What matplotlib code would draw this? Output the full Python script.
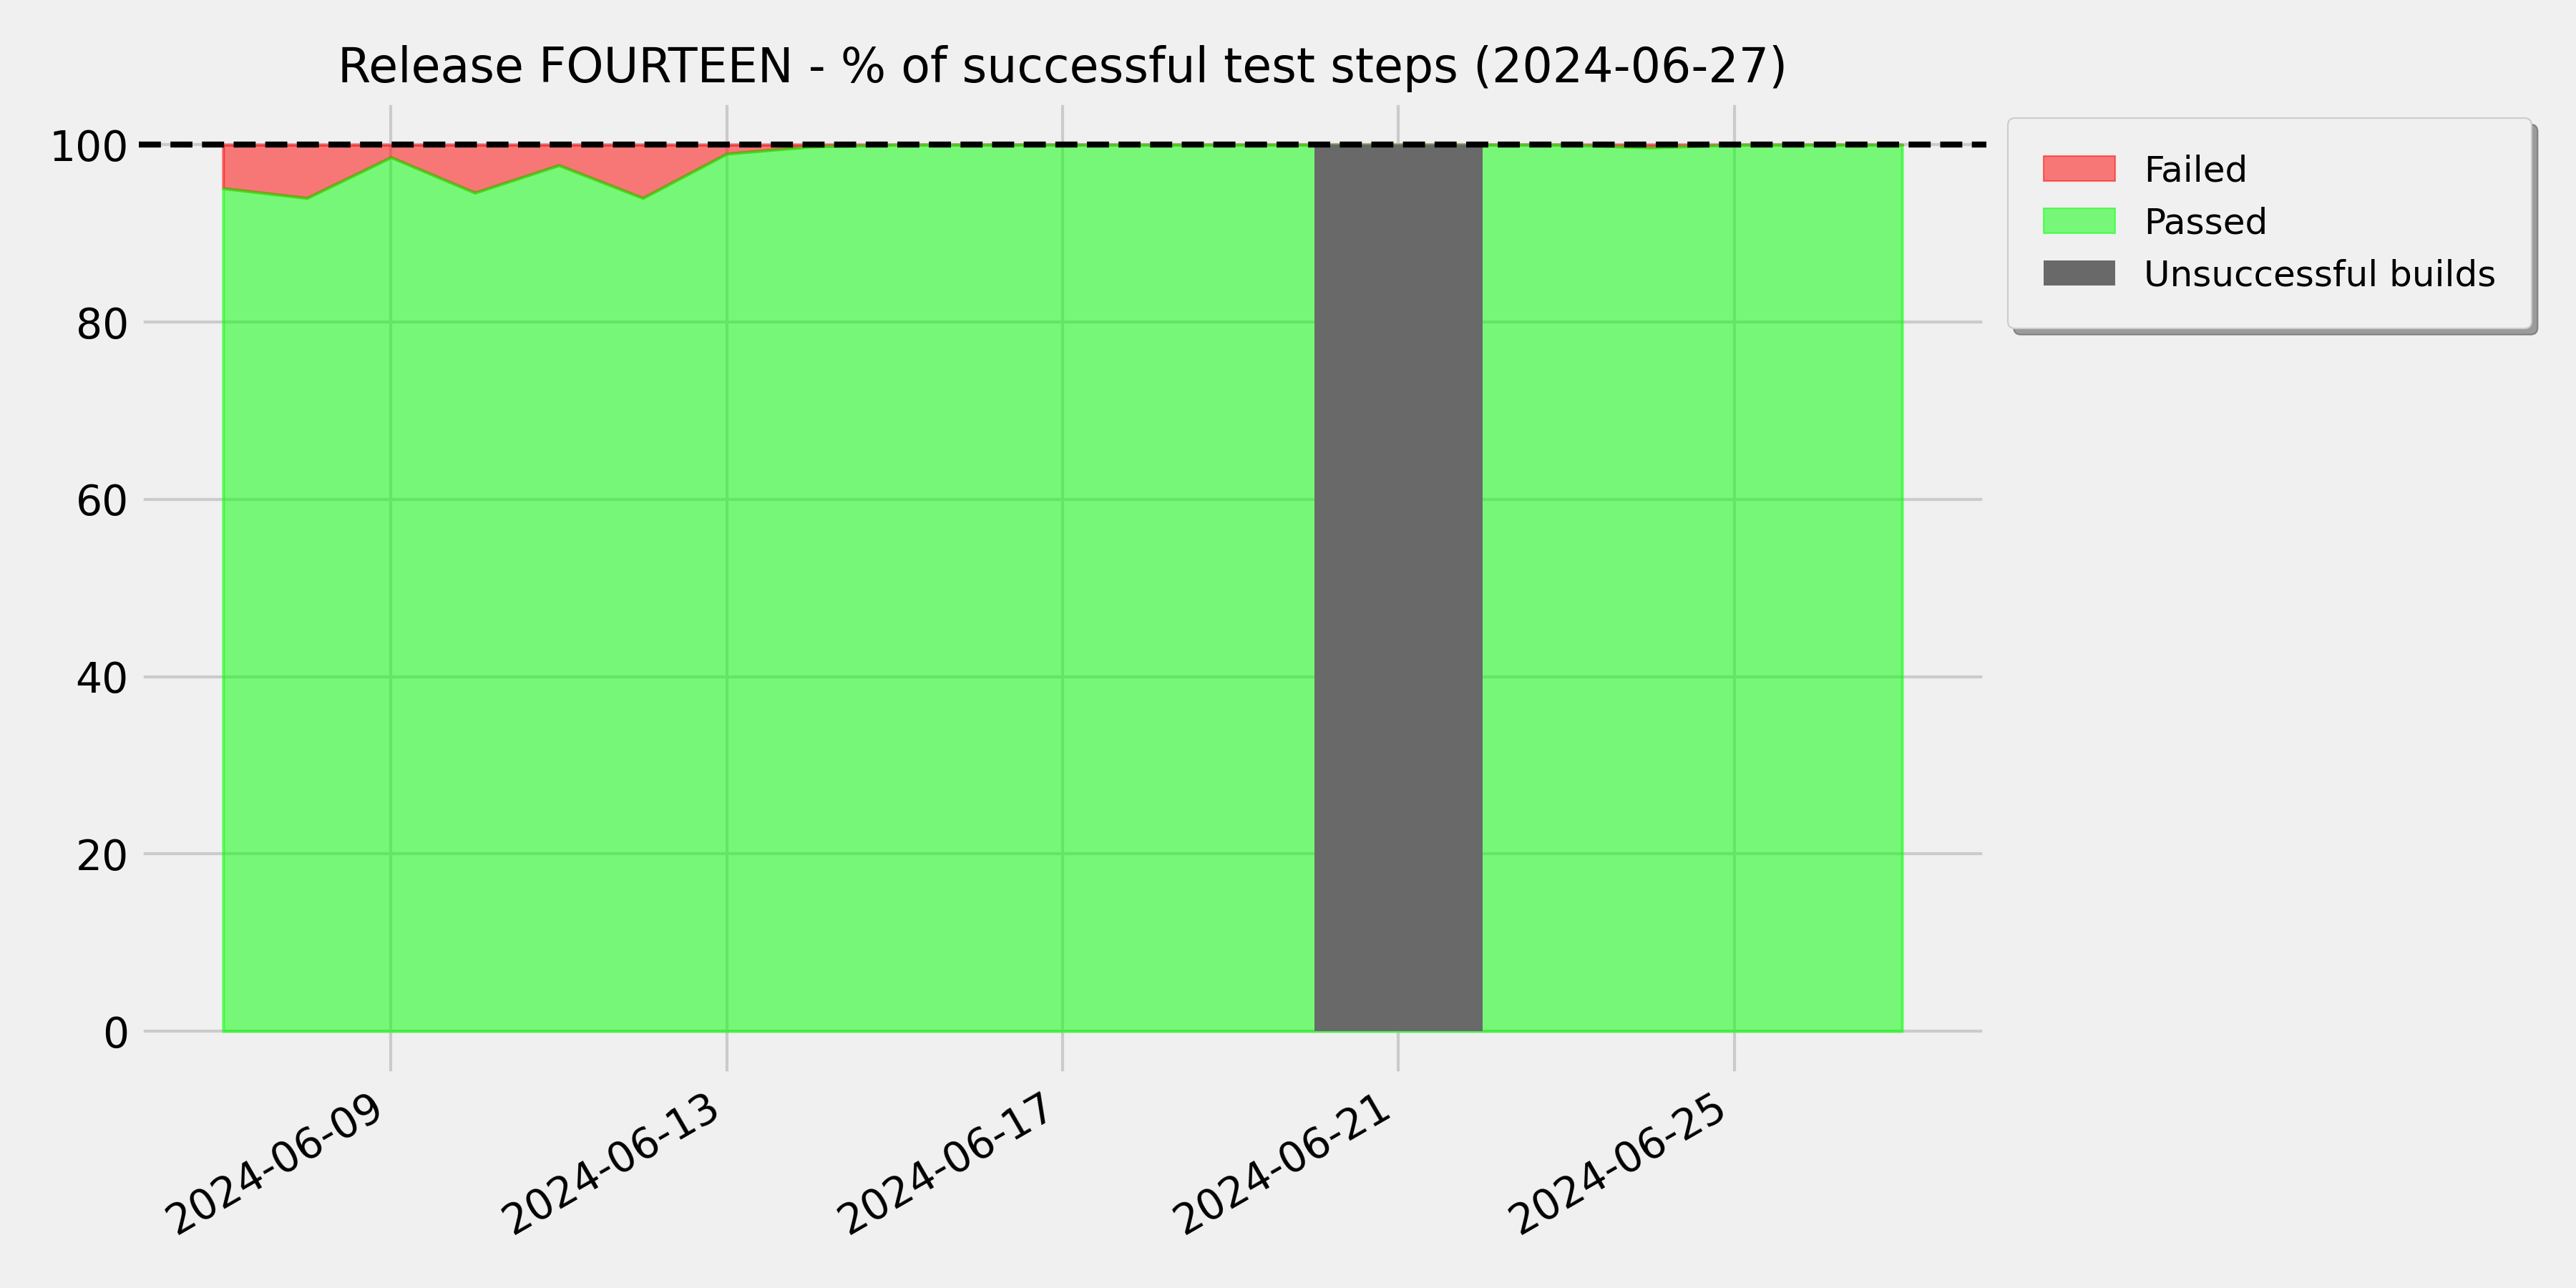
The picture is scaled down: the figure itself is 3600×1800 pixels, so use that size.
import numpy as np
import pandas as pd
import matplotlib
matplotlib.use("Agg")
import matplotlib.pyplot as plt
import matplotlib.dates as mdates
from matplotlib.patches import Patch

plt.style.use('fivethirtyeight')

# daily results for the release
dates = pd.date_range("2024-06-07", "2024-06-27", freq="D")
passed = [95.1, 94.0, 98.6, 94.6, 97.7, 94.0, 99.0, 99.8, 100.0, 100.0, 100.0,
          100.0, 100.0, 100.0, 100.0, 100.0, 100.0, 99.7, 100.0, 100.0, 100.0]
failed = [4.9, 6.0, 1.4, 5.4, 2.3, 6.0, 1.0, 0.2, 0.0, 0.0, 0.0,
          0.0, 0.0, 0.0, 0.0, 0.0, 0.0, 0.3, 0.0, 0.0, 0.0]
bad_builds = pd.to_datetime(["2024-06-20", "2024-06-22"])
target = 100

passed = np.array(passed)
failed = np.array(failed)

fig, ax = plt.subplots(figsize=(12, 6))

# failed on top of passed; passed drawn last so its edge sits over the red
ax.fill_between(dates, passed, passed + failed, facecolor='red', edgecolor='red', alpha=0.5, lw=1)
ax.fill_between(dates, 0, passed, facecolor='lime', edgecolor='lime', alpha=0.5, lw=1)
ax.fill_between(bad_builds, 0, target, facecolor='dimgray', edgecolor='none', lw=0, zorder=3)
ax.axhline(target, color='black', linestyle='--', lw=2, zorder=4)

ax.xaxis.set_major_locator(mdates.DayLocator(bymonthday=[1, 5, 9, 13, 17, 21, 25, 29]))
ax.xaxis.set_major_formatter(mdates.DateFormatter('%Y-%m-%d'))
ax.tick_params(labelsize=14)
fig.autofmt_xdate()
fig.subplots_adjust(left=0.054, right=0.771, bottom=0.165, top=0.922)

ax.set_title("Release FOURTEEN - % of successful test steps (2024-06-27)", fontsize=16)

handles = [Patch(facecolor='red', edgecolor='red', alpha=0.5, label='Failed'),
           Patch(facecolor='lime', edgecolor='lime', alpha=0.5, label='Passed'),
           Patch(facecolor='dimgray', edgecolor='none', label='Unsuccessful builds')]
ax.legend(handles=handles, loc='upper left', bbox_to_anchor=(1.002, 1), shadow=True,
          fontsize=12, borderpad=1.0, labelspacing=0.5, handlelength=2.0, handletextpad=0.8)

plt.savefig("out.png", dpi=300)
